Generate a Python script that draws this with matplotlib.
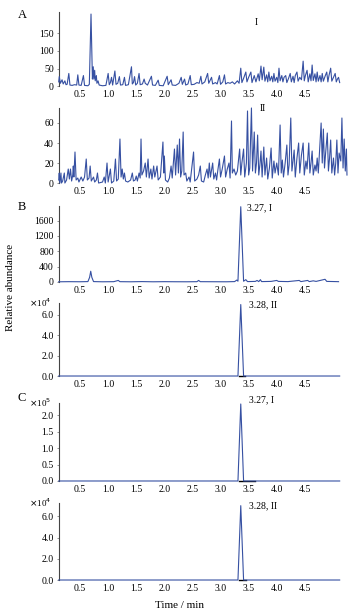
import matplotlib
matplotlib.use('Agg')
import matplotlib.pyplot as plt
from matplotlib.ticker import FuncFormatter

plt.rcParams['font.family'] = ['Liberation Serif', 'DejaVu Serif']

# ---- data (time in min, intensity) ----
a1_t = [0.12, 0.13, 0.15, 0.18, 0.20, 0.23, 0.25, 0.27, 0.30, 0.32, 0.36, 0.40, 0.44, 0.46, 0.48, 0.52,
        0.56, 0.58, 0.64, 0.665, 0.695, 0.72, 0.735, 0.745, 0.76, 0.77, 0.79, 0.80, 0.82, 0.84, 0.90, 0.96,
        1.00, 1.02, 1.04, 1.06, 1.08, 1.12, 1.14, 1.17, 1.20, 1.22, 1.26, 1.29, 1.31, 1.36, 1.415, 1.43,
        1.45, 1.47, 1.49, 1.52, 1.55, 1.57, 1.61, 1.64, 1.66, 1.70, 1.77, 1.79, 1.84, 1.89, 1.91, 1.98,
        2.05, 2.07, 2.12, 2.14, 2.20, 2.26, 2.30, 2.32, 2.36, 2.38, 2.42, 2.46, 2.48, 2.53, 2.58, 2.62,
        2.65, 2.67, 2.72, 2.77, 2.79, 2.84, 2.86, 2.91, 2.94, 2.98, 3.00, 3.04, 3.07, 3.09, 3.13, 3.17,
        3.21, 3.25, 3.30, 3.33, 3.36, 3.38, 3.41, 3.45, 3.47, 3.50, 3.54, 3.56, 3.60, 3.63, 3.67, 3.69,
        3.72, 3.74, 3.77, 3.79, 3.82, 3.84, 3.86, 3.88, 3.91, 3.93, 3.95, 3.97, 4.00, 4.02, 4.04, 4.06,
        4.09, 4.11, 4.13, 4.16, 4.18, 4.21, 4.24, 4.26, 4.29, 4.31, 4.33, 4.36, 4.38, 4.41, 4.44, 4.47,
        4.49, 4.51, 4.54, 4.56, 4.59, 4.61, 4.63, 4.65, 4.68, 4.70, 4.72, 4.74, 4.77, 4.79, 4.81, 4.83,
        4.86, 4.89, 4.91, 4.93, 4.96, 4.98, 5.01, 5.04, 5.06, 5.08, 5.10, 5.12]
a1_v = [12, 27, 8, 18, 6, 15, 4, 5, 36, 3, 2, 4, 3, 32, 3, 2,
        30, 2, 1, 5, 205, 20, 55, 20, 45, 15, 30, 8, 15, 3, 1, 2,
        36, 4, 10, 25, 3, 43, 5, 8, 27, 3, 4, 25, 2, 4, 55, 6,
        10, 27, 3, 8, 36, 4, 6, 20, 8, 3, 28, 3, 2, 17, 2, 1,
        28, 4, 18, 3, 2, 8, 25, 5, 20, 3, 6, 30, 4, 5, 10, 8,
        28, 6, 12, 36, 8, 25, 6, 10, 6, 30, 5, 12, 32, 6, 10, 8,
        12, 6, 15, 8, 51, 10, 22, 40, 12, 25, 40, 10, 30, 12, 35, 15,
        57, 18, 54, 14, 32, 12, 40, 15, 28, 12, 36, 14, 25, 10, 51, 15,
        30, 12, 25, 30, 10, 22, 36, 12, 28, 10, 30, 40, 14, 25, 18, 71,
        15, 30, 45, 12, 35, 15, 60, 16, 35, 12, 40, 14, 30, 12, 36, 14,
        28, 40, 12, 30, 51, 14, 25, 36, 12, 20, 25, 10]

a2_t = [0.12, 0.13, 0.14, 0.16, 0.17, 0.19, 0.22, 0.23, 0.26, 0.29, 0.31, 0.33, 0.35, 0.37, 0.38, 0.39,
        0.41, 0.43, 0.46, 0.48, 0.52, 0.55, 0.58, 0.61, 0.63, 0.66, 0.68, 0.70, 0.74, 0.76, 0.79, 0.81,
        0.83, 0.90, 0.93, 0.95, 0.98, 1.00, 1.04, 1.06, 1.10, 1.13, 1.15, 1.18, 1.21, 1.23, 1.25, 1.27,
        1.29, 1.31, 1.35, 1.40, 1.43, 1.45, 1.48, 1.50, 1.52, 1.55, 1.57, 1.585, 1.60, 1.63, 1.66, 1.68,
        1.71, 1.73, 1.76, 1.78, 1.81, 1.83, 1.87, 1.89, 1.93, 1.975, 1.99, 2.00, 2.02, 2.06, 2.09, 2.12,
        2.14, 2.18, 2.20, 2.23, 2.25, 2.27, 2.29, 2.31, 2.335, 2.35, 2.38, 2.40, 2.44, 2.46, 2.52, 2.54,
        2.58, 2.61, 2.64, 2.66, 2.70, 2.73, 2.76, 2.78, 2.80, 2.82, 2.86, 2.88, 2.91, 2.93, 2.95, 2.98,
        3.00, 3.03, 3.07, 3.09, 3.12, 3.15, 3.17, 3.195, 3.21, 3.24, 3.27, 3.30, 3.34, 3.36, 3.38, 3.41,
        3.43, 3.46, 3.48, 3.50, 3.52, 3.55, 3.57, 3.60, 3.62, 3.64, 3.66, 3.68, 3.70, 3.72, 3.74, 3.77,
        3.79, 3.82, 3.84, 3.87, 3.90, 3.92, 3.95, 3.97, 4.00, 4.03, 4.06, 4.08, 4.10, 4.12, 4.15, 4.18,
        4.20, 4.22, 4.25, 4.27, 4.29, 4.31, 4.33, 4.36, 4.39, 4.41, 4.44, 4.47, 4.49, 4.52, 4.54, 4.57,
        4.59, 4.61, 4.63, 4.65, 4.68, 4.70, 4.72, 4.74, 4.76, 4.79, 4.81, 4.83, 4.85, 4.87, 4.90, 4.92,
        4.94, 4.96, 4.98, 5.01, 5.03, 5.05, 5.07, 5.09, 5.11, 5.14, 5.16, 5.18, 5.20, 5.22, 5.24, 5.25]
a2_v = [3, 10, 0, 10, 0, 2, 10, 0, 3, 14, 4, 14, 2, 8, 17, 6,
        31, 3, 5, 1, 6, 2, 6, 24, 3, 5, 17, 2, 6, 1, 3, 10,
        0, 1, 6, 0, 20, 1, 14, 0, 2, 24, 2, 4, 44, 6, 14, 4,
        10, 2, 1, 3, 10, 2, 3, 7, 2, 10, 5, 44, 8, 12, 20, 6,
        24, 5, 14, 4, 17, 6, 17, 3, 6, 41, 10, 27, 3, 1, 5, 17,
        5, 34, 8, 38, 10, 44, 6, 12, 51, 8, 10, 2, 6, 1, 31, 2,
        4, 8, 17, 2, 1, 8, 14, 5, 20, 6, 20, 4, 10, 3, 12, 24,
        6, 14, 27, 6, 14, 20, 5, 62, 10, 14, 8, 12, 34, 8, 20, 34,
        6, 20, 72, 8, 15, 75, 12, 51, 10, 20, 48, 8, 18, 32, 6, 36,
        8, 25, 4, 15, 35, 5, 22, 10, 20, 8, 58, 10, 23, 6, 20, 38,
        8, 18, 65, 12, 22, 33, 6, 25, 40, 10, 28, 40, 8, 22, 14, 40,
        10, 20, 32, 8, 18, 12, 25, 10, 30, 60, 20, 54, 15, 30, 50, 12,
        25, 43, 10, 25, 8, 20, 43, 10, 30, 22, 65, 15, 44, 12, 34, 8]

b1_t = [0.12, 0.30, 0.50, 0.64, 0.67, 0.69, 0.71, 0.74, 0.90, 1.10, 1.18, 1.21, 1.40, 1.60, 1.80, 2.00,
        2.20, 2.40, 2.58, 2.61, 2.64, 2.90, 3.10, 3.25, 3.29, 3.31, 3.36, 3.41, 3.45, 3.48, 3.62, 3.65,
        3.68, 3.71, 3.73, 3.90, 4.00, 4.03, 4.20, 4.40, 4.43, 4.55, 4.58, 4.65, 4.70, 4.86, 4.89, 5.05, 5.10]
b1_v = [5, 8, 6, 10, 120, 280, 120, 10, 5, 8, 40, 8, 5, 10, 5, 8,
        6, 5, 8, 40, 8, 6, 5, 10, 50, 20, 1960, 20, 60, 10, 15, 40,
        10, 60, 10, 15, 40, 15, 10, 40, 10, 40, 10, 30, 15, 70, 15, 10, 8]

peak_t = [0.12, 3.31, 3.36, 3.41, 5.12]
b2_v = [0, 0, 70000, 0, 0]
c1_v = [0, 0, 235000, 0, 0]
c2_v = [0, 0, 70000, 0, 0]

# integration baselines (black marks under the peak)
b2_base = [3.33, 3.43]
c1_base = [3.33, 3.62]
c2_base = [3.32, 3.45]

xticks = [0.5, 1.0, 1.5, 2.0, 2.5, 3.0, 3.5, 4.0, 4.5]
blue = '#3650a2'

fig = plt.figure(figsize=(3.59, 6.15), dpi=100)

# panel bottoms/heights in figure fraction
boxes = [(0.860, 0.120), (0.7024, 0.122), (0.5415, 0.1236),
         (0.3886, 0.1187), (0.2179, 0.1268), (0.0569, 0.1252)]
series = [(a1_t, a1_v), (a2_t, a2_v), (b1_t, b1_v),
          (peak_t, b2_v), (peak_t, c1_v), (peak_t, c2_v)]
ylims = [210, 75, 1980, 71500, 238000, 72500]
yticks = [[0, 50, 100, 150], [0, 20, 40, 60], [0, 400, 800, 1200, 1600],
          [0, 20000, 40000, 60000], [0, 50000, 100000, 150000, 200000],
          [0, 20000, 40000, 60000]]
scales = [None, None, None, 1e4, 1e5, 1e4]
bases = [None, None, None, b2_base, c1_base, c2_base]
labels = [('I', 3.60, 0.86), ('II', 3.70, 0.99), ('3.27, I', 3.47, 0.98),
          ('3.28, II', 3.50, 0.97), ('3.27, I', 3.50, 1.04), ('3.28, II', 3.50, 0.96)]

axes = []
for i in range(6):
    y0, h = boxes[i]
    ax = fig.add_axes([0.1635, y0, 0.803, h])
    t, v = series[i]
    ax.plot(t, v, color=blue, linewidth=0.8, clip_on=False, zorder=3)
    if bases[i] is not None:
        ax.plot(bases[i], [0, 0], color='black', linewidth=1.0, clip_on=False, zorder=2)
    ax.set_xlim(0.12, 5.25)
    ax.set_ylim(0, ylims[i])
    ax.set_xticks(xticks)
    ax.set_xticklabels(['%.1f' % x for x in xticks])
    ax.set_yticks(yticks[i])
    s = scales[i]
    if s is not None:
        ax.yaxis.set_major_formatter(FuncFormatter(lambda val, pos, s=s: '%.1f' % (val / s)))
        exp = 4 if s == 1e4 else 5
        ax.text(-0.025, 1.0, r'$\times$10$^{%d}$' % exp, transform=ax.transAxes,
                ha='right', va='center', fontsize=6.5)
    for side in ['top', 'right', 'bottom']:
        ax.spines[side].set_visible(False)
    ax.spines['left'].set_color('#444444')
    ax.spines['left'].set_linewidth(0.8)
    ax.tick_params(axis='x', length=0, pad=3, labelsize=7)
    ax.tick_params(axis='y', length=1.5, width=0.5, pad=2, labelsize=7, color='#666666')
    txt, tx, ty = labels[i]
    ax.text(tx, ty, txt, transform=ax.get_xaxis_transform(), ha='left', va='center', fontsize=7)
    axes.append(ax)

# panel letters
fig.text(0.061, 1 - 15 / 615, 'A', fontsize=9, ha='center', va='center')
fig.text(0.061, 1 - 207 / 615, 'B', fontsize=9, ha='center', va='center')
fig.text(0.061, 1 - 398 / 615, 'C', fontsize=9, ha='center', va='center')

fig.text(0.028, 0.533, 'Relative abundance', rotation=90, fontsize=8, ha='center', va='center')
fig.text(0.50, 1 - 605 / 615, 'Time / min', fontsize=8, ha='center', va='center')

fig.savefig('out.png', dpi=100)
